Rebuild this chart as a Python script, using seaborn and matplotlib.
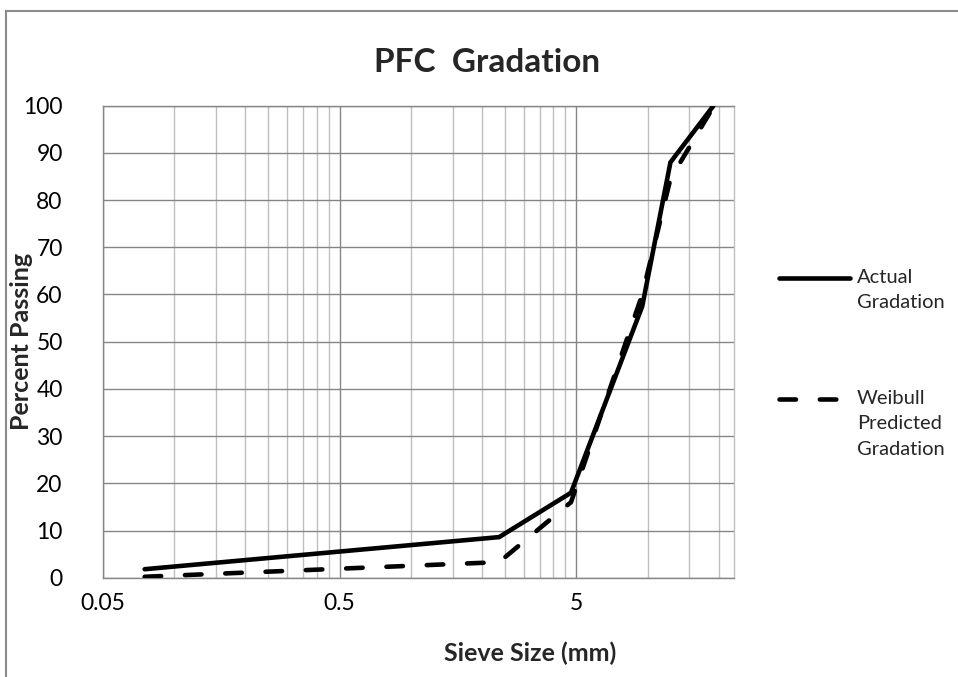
import matplotlib
matplotlib.use("Agg")
import matplotlib.pyplot as plt
from matplotlib.lines import Line2D
from matplotlib.patches import Rectangle
from matplotlib.ticker import FixedLocator, NullFormatter
import numpy as np
import pandas as pd
import seaborn as sns

# Sieve sizes (mm) and percent passing
sieve_mm = [0.075, 2.36, 4.75, 9.5, 12.5, 19.0]
actual_pct = [1.8, 8.6, 18.0, 57.5, 88.0, 100.0]
weibull_pct = [0.2, 3.3, 16.0, 60.0, 84.5, 99.8]

x_major = [0.05, 0.5, 5]
x_major_labels = ["0.05", "0.5", "5"]
y_ticks = list(range(0, 101, 10))

title = "PFC  Gradation"
x_title = "Sieve Size (mm)"
y_title = "Percent Passing"
series_names = ["Actual\nGradation", "Weibull\nPredicted\nGradation"]

sns.set_theme(style="white")
plt.rcParams["font.family"] = ["Lato", "DejaVu Sans"]

W, H = 958, 677
fig = plt.figure(figsize=(W / 100, H / 100), dpi=100)
ax = fig.add_axes([103 / W, 1 - 577.7 / H, (734 - 103) / W, (577.7 - 105.7) / H])

df = pd.DataFrame({"size": sieve_mm, "actual": actual_pct, "weibull": weibull_pct})

sns.lineplot(data=df, x="size", y="actual", ax=ax, color="black", lw=3.3,
             solid_joinstyle="miter", zorder=4, legend=False)
sns.lineplot(data=df, x="size", y="weibull", ax=ax, color="black", lw=3.3,
             dashes=False, zorder=3, legend=False)
dash_line = ax.lines[-1]
dash_line.set_dashes((3.6, 5.2))
dash_line.set_dash_capstyle("round")

ax.set_xscale("log")
ax.set_xlim(0.05, 23.2)
ax.set_ylim(0, 100)

# gridlines: darker on decades and every 10 %, lighter on minor multiples
minor = []
for base in [0.05, 0.5, 5]:
    for k in range(2, 10):
        v = base * k
        if v < 23.2:
            minor.append(v)
ax.xaxis.set_major_locator(FixedLocator(x_major))
ax.set_xticklabels(x_major_labels)
ax.xaxis.set_minor_locator(FixedLocator(minor))
ax.xaxis.set_minor_formatter(NullFormatter())
ax.set_yticks(y_ticks)
ax.grid(True, which="major", axis="both", color="#868686", lw=1.0, zorder=0)
ax.grid(True, which="minor", axis="x", color="#bfbfbf", lw=1.0, zorder=0)
ax.set_axisbelow(True)

ax.tick_params(axis="both", which="both", length=0)
ax.tick_params(axis="x", pad=11, labelsize=16.5, labelcolor="black")
ax.tick_params(axis="y", pad=29, labelsize=16.5, labelcolor="black")
for lab in ax.get_yticklabels():
    lab.set_horizontalalignment("right")

for side in ["left", "bottom", "top"]:
    ax.spines[side].set_color("#868686")
    ax.spines[side].set_linewidth(1.0)
ax.spines["right"].set_color("#bfbfbf")
ax.spines["right"].set_linewidth(1.0)

ax.set_xlabel(x_title, fontsize=18, fontweight="bold")
ax.xaxis.set_label_coords((530 - 103) / (734 - 103), -(642 - 577.7) / 472)
ax.set_ylabel(y_title, fontsize=18, fontweight="bold")
ax.yaxis.set_label_coords(-(103 - 22 - 11) / 631, 0.5)

fig.text(487 / W, 1 - 63 / H, title, fontsize=24, fontweight="bold",
         ha="center", va="center")

# chart frame
fig.add_artist(Rectangle((5.5 / W, -0.1), 1.2, 1 - 10.5 / H + 0.1,
                         transform=fig.transFigure, fill=False,
                         edgecolor="#8c8c8c", lw=1.5, clip_on=False))

# legend entries, handle aligned with first text line
lx0, lx1, tx = 779 / W, 850 / W, 857 / W
fig.add_artist(Line2D([lx0, lx1], [1 - 278 / H] * 2, transform=fig.transFigure,
                      color="black", lw=3.3))
leg_dash = Line2D([lx0, lx1 - 8 / W], [1 - 399 / H] * 2, transform=fig.transFigure,
                  color="black", lw=3.3, dash_capstyle="round")
leg_dash.set_dashes((3.6, 5.2))
fig.add_artist(leg_dash)
fig.text(tx, 1 - 269 / H, series_names[0], fontsize=14.5, ha="left", va="top",
         linespacing=1.6)
fig.text(tx, 1 - 390 / H, series_names[1], fontsize=14.5, ha="left", va="top",
         linespacing=1.6)

fig.savefig("out.png", dpi=100, facecolor="white")
